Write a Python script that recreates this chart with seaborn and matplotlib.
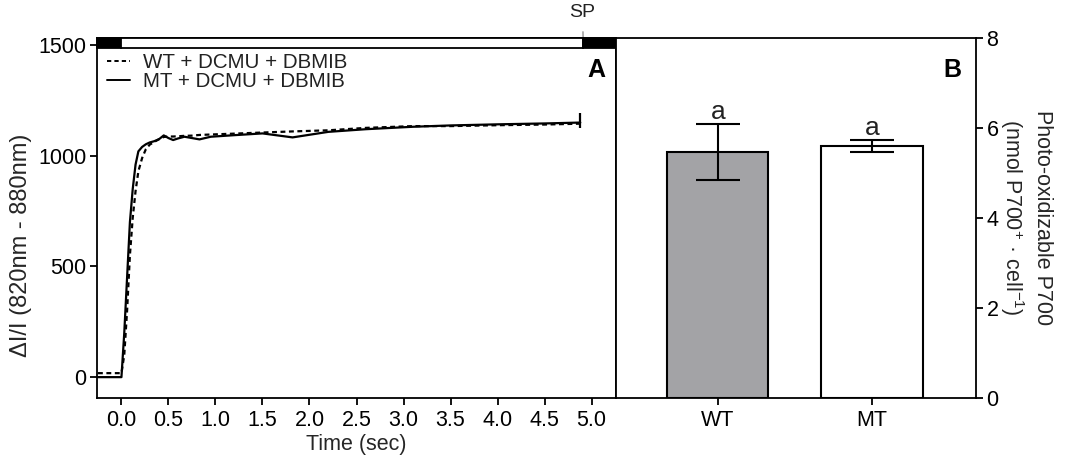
import numpy as np
import pandas as pd
import matplotlib
matplotlib.use("Agg")
import matplotlib.pyplot as plt
from matplotlib.patches import Rectangle
import seaborn as sns

# ---------------- data ----------------
time_s = [-0.25, 0.0, 0.03, 0.06, 0.09, 0.12, 0.15, 0.18, 0.22, 0.26, 0.30, 0.35,
          0.40, 0.45, 0.50, 0.55, 0.60, 0.67, 0.75, 0.83, 0.95, 1.2, 1.5, 1.82,
          2.2, 2.6, 3.1, 3.5, 4.0, 4.5, 4.88]
wt_signal = [18, 18, 100, 300, 550, 720, 840, 930, 990, 1030, 1050, 1063,
             1075, 1085, 1087, 1087, 1088, 1090, 1091, 1094, 1096, 1100, 1105, 1110,
             1115, 1126, 1134, 1134, 1138, 1141, 1145]
mt_signal = [0, 0, 200, 450, 700, 850, 960, 1020, 1040, 1052, 1060, 1066,
             1075, 1092, 1080, 1071, 1078, 1086, 1080, 1074, 1086, 1093, 1101, 1083,
             1108, 1120, 1131, 1137, 1142, 1146, 1150]
series_names = ["WT + DCMU + DBMIB", "MT + DCMU + DBMIB"]
end_mark_time = [4.88]
end_mark_low = [1124]
end_mark_high = [1191]

light_edges = [-0.26, 0.0, 4.91, 5.26]
light_colors = ["black", "white", "black"]

x_ticks = [0.0, 0.5, 1.0, 1.5, 2.0, 2.5, 3.0, 3.5, 4.0, 4.5, 5.0]
y_ticks_a = [0, 500, 1000, 1500]

strains = ["WT", "MT"]
p700_mean = [5.47, 5.60]
p700_err = [0.62, 0.13]
letters = ["a", "a"]
bar_colors = ["#a3a3a6", "#ffffff"]
y_ticks_b = [0, 2, 4, 6, 8]

# ---------------- style ----------------
sns.set_style("ticks")
plt.rcParams["font.family"] = ["Liberation Sans", "DejaVu Sans"]
plt.rcParams["mathtext.fontset"] = "custom"
plt.rcParams["mathtext.rm"] = "Liberation Sans"
plt.rcParams["mathtext.it"] = "Liberation Sans:italic"
plt.rcParams["axes.linewidth"] = 1.3
plt.rcParams["xtick.major.width"] = 1.3
plt.rcParams["ytick.major.width"] = 1.3
plt.rcParams["xtick.major.size"] = 5
plt.rcParams["ytick.major.size"] = 5
plt.rcParams["xtick.major.pad"] = 4
plt.rcParams["ytick.major.pad"] = 2.5
plt.rcParams["xtick.color"] = "black"
plt.rcParams["ytick.color"] = "black"
plt.rcParams["axes.edgecolor"] = "black"
plt.rcParams["text.color"] = "#222222"

TICK_FS = 15.5
W, H = 1081, 459
fig = plt.figure(figsize=(W / 100, H / 100), dpi=100)
axA = fig.add_axes([97 / W, 1 - 397.5 / H, 519 / W, 359.5 / H])
axB = fig.add_axes([616 / W, 1 - 397.5 / H, 360 / W, 359.5 / H])

# ---------------- panel A ----------------
df = pd.DataFrame({
    "time": time_s * 2,
    "signal": wt_signal + mt_signal,
    "series": [series_names[0]] * len(time_s) + [series_names[1]] * len(time_s),
})
sns.lineplot(data=df, x="time", y="signal", style="series",
             style_order=series_names,
             dashes={series_names[0]: (2.2, 1.6), series_names[1]: ""},
             color="black", linewidth=1.6, ax=axA, legend=True, sort=False)
axA.vlines(end_mark_time, end_mark_low, end_mark_high, color="black", linewidth=1.6)

ymin_a, ymax_a = -92, 1532
axA.set_xlim(light_edges[0], light_edges[-1])
axA.set_ylim(ymin_a, ymax_a)
for x0, x1, c in zip(light_edges[:-1], light_edges[1:], light_colors):
    axA.add_patch(Rectangle((x0, 1487), x1 - x0, ymax_a - 1487, facecolor=c,
                            edgecolor="black", linewidth=1.3, zorder=5, clip_on=False))

axA.set_xticks(x_ticks)
axA.set_xticklabels([f"{v:.1f}" for v in x_ticks], fontsize=TICK_FS)
axA.set_yticks(y_ticks_a)
axA.set_yticklabels([str(v) for v in y_ticks_a], fontsize=TICK_FS)
axA.set_xlabel("Time (sec)", fontsize=TICK_FS, labelpad=2)
axA.set_ylabel("ΔI/I (820nm - 880nm)", fontsize=17)
axA.yaxis.set_label_coords(-0.125, 0.424)
for s in ["top", "right", "left", "bottom"]:
    axA.spines[s].set_visible(True)
axA.tick_params(axis="x", which="both", top=False)
axA.tick_params(axis="y", which="both", right=False)

leg = axA.legend(loc="upper left", bbox_to_anchor=(-0.005, 0.992), frameon=False,
                 fontsize=14.8, handlelength=1.15, handletextpad=0.6,
                 labelspacing=-0.02, borderaxespad=0.2)
for h in leg.get_lines():
    h.set_linewidth(1.4)

axA.text(0.963, 0.912, "A", transform=axA.transAxes, fontsize=18,
         fontweight="bold", ha="center", va="center", color="black")
axA.annotate("SP", xy=(4.91, ymax_a), xytext=(4.905, 1645),
             ha="center", va="center", fontsize=14, color="#222222",
             annotation_clip=False,
             arrowprops=dict(arrowstyle="-", color="#777777", linewidth=0.8,
                             shrinkA=5, shrinkB=0))

# ---------------- panel B ----------------
dfb = pd.DataFrame({"strain": strains, "p700": p700_mean})
sns.barplot(data=dfb, x="strain", y="p700", hue="strain", palette=bar_colors,
            order=strains, errorbar=None, width=0.656, edgecolor="black",
            linewidth=1.5, ax=axB, legend=False)
axB.errorbar(range(len(strains)), p700_mean, yerr=p700_err, fmt="none",
             ecolor="black", elinewidth=1.5, capsize=16, capthick=1.5)
for i, (m, e, l) in enumerate(zip(p700_mean, p700_err, letters)):
    axB.text(i, m + e + 0.27, l, ha="center", va="center", fontsize=19)

axB.set_xlim(-0.66, 1.675)
axB.set_ylim(0, 8)
axB.set_yticks(y_ticks_b)
axB.set_yticklabels([str(v) for v in y_ticks_b], fontsize=TICK_FS)
axB.yaxis.tick_right()
axB.yaxis.set_label_position("right")
axB.set_ylabel("Photo-oxidizable P700\n(nmol P700$^{+}$ · cell$^{-1}$)",
               fontsize=15.5, rotation=270, labelpad=39, linespacing=1.3)
axB.set_xlabel("")
axB.set_xticks(range(len(strains)))
axB.set_xticklabels(strains, fontsize=TICK_FS)
axB.tick_params(axis="x", length=5)
for s in ["top", "right", "left", "bottom"]:
    axB.spines[s].set_visible(True)
axB.text(0.933, 0.912, "B", transform=axB.transAxes, fontsize=18,
         fontweight="bold", ha="center", va="center", color="black")

fig.savefig("out.png", dpi=100)
